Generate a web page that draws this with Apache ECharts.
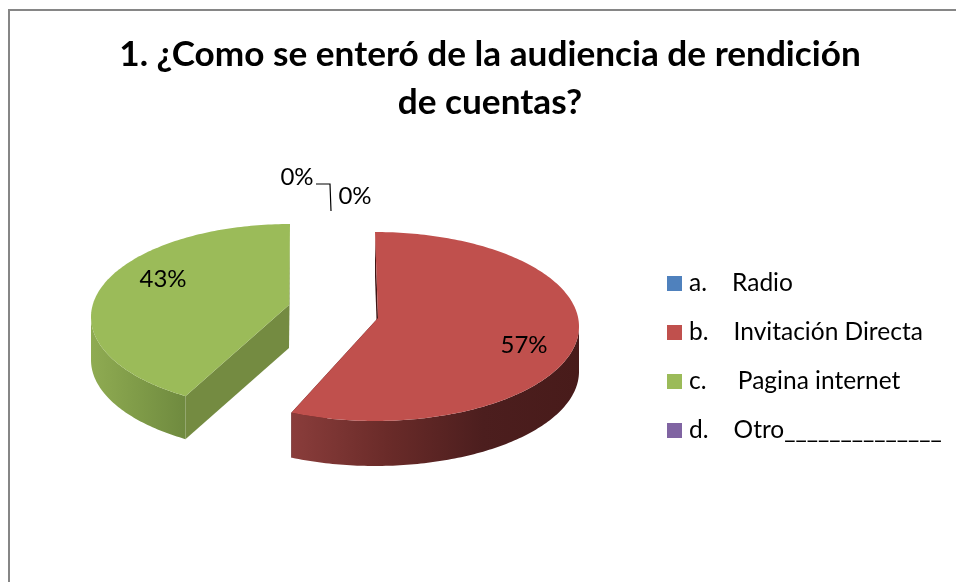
<!DOCTYPE html>
<html>
<head>
<meta charset="utf-8">
<style>
  html,body{margin:0;padding:0;background:#fff;}
  #main{width:956px;height:582px;}
</style>
<script src="https://cdn.jsdelivr.net/npm/echarts@6/dist/echarts.min.js"></script>
</head>
<body>
<div id="main"></div>
<script>
var title_name = '1. ¿Como se enteró de la audiencia de rendición\nde cuentas?';
var categories = ['a.    Radio', 'b.    Invitación Directa', 'c.     Pagina internet', 'd.    Otro______________'];
var percents = [0, 57, 43, 0];
var colors = ['#4f81bd', '#c0504d', '#9bbb59', '#8064a2'];

// one tilted, exploded slice per category: ellipse, apex and wall height
// lean / leanEnd nudge the cut edges, the perspective of the picture moves them a bit
var shapes = [
  null,
  {cx:375, cy:326.5, rx:204, ry:94.5, ax:378, ay:318, depth:45, lean:0, leanEnd:-1, label:[524,345],
    face:'#3f1615', wall:['#8a3d3b','#6a2b29','#4c1e1e','#481b1a']},
  {cx:290, cy:317, rx:199, ry:93, ax:289, ay:305, depth:43, lean:6.5, leanEnd:0, label:[163,279],
    face:'#748b41', wall:['#8fab52','#7f9b48','#6f8a3f']},
  null
];
var zero_labels = [[297,177], null, null, [355,196]];
var label_font = '24px Lato';

function rimPoint(s, deg, down){
  var r = deg*Math.PI/180;
  return [s.cx+s.rx*Math.sin(r), s.cy-s.ry*Math.cos(r)+(down||0)];
}

function renderSlice(params, api){
  var i = params.seriesIndex, kids = [];
  var s = shapes[i], val = api.value(0);
  var total = 0, before = 0;
  for (var k = 0; k < percents.length; k++) {
    total += percents[k];
    if (k < i) before += percents[k];
  }
  if (s && val > 0) {
    var a0 = before/total*360 + s.lean, a1 = (before+val)/total*360 + s.leanEnd;
    var top = [[s.ax,s.ay]], a;
    for (a = a0; a < a1; a += 1) top.push(rimPoint(s,a));
    top.push(rimPoint(s,a1));

    // cut faces first, the wall and the top surface cover what is hidden
    [a0,a1].forEach(function(e){
      var p = rimPoint(s,e);
      kids.push({type:'polygon', shape:{points:[p,[s.ax,s.ay],[s.ax,s.ay+s.depth],[p[0],p[1]+s.depth]]},
        style:{fill:s.face}});
    });

    var from = Math.max(a0,90), to = Math.min(a1,270);
    if (to > from) {
      var up = [], down = [];
      for (a = from; a < to; a += 1) {
        up.push(rimPoint(s,a));
        down.unshift(rimPoint(s,a,s.depth));
      }
      up.push(rimPoint(s,to));
      down.unshift(rimPoint(s,to,s.depth));
      kids.push({type:'polygon', shape:{points:up.concat(down)},
        style:{fill:{type:'linear',x:0,y:0,x2:1,y2:0,colorStops:s.wall.map(function(c,n){
          return {offset:n/(s.wall.length-1), color:c};
        })}}});
    }
    kids.push({type:'polygon', shape:{points:top}, style:{fill:colors[i]}});
    kids.push({type:'text', style:{x:s.label[0], y:s.label[1], text:val+'%', font:label_font,
      fill:'#000', align:'center', verticalAlign:'middle'}});
  } else if (zero_labels[i]) {
    kids.push({type:'text', style:{x:zero_labels[i][0], y:zero_labels[i][1], text:val+'%', font:label_font,
      fill:'#000', align:'center', verticalAlign:'middle'}});
  }
  // leader line of the two empty slices
  if (i === 3) {
    kids.push({type:'polyline', shape:{points:[[316,184],[330,184],[331,211]]},
      style:{fill:'none', stroke:'#000', lineWidth:1.2}});
  }
  return {type:'group', children:kids};
}

var myChart = echarts.init(document.getElementById('main'));
var series = [];
for (var i = 0; i < categories.length; i++) {
  series.push({
    name: categories[i],
    type: 'custom',
    coordinateSystem: 'none',
    silent: true,
    itemStyle: {color: colors[i]},
    renderItem: renderSlice,
    data: [[percents[i]]]
  });
}

var option = {
  backgroundColor: '#fff',
  animation: false,
  title: {
    text: title_name,
    left: 485,
    top: 26,
    textAlign: 'center',
    textStyle: {fontFamily:'Lato', fontWeight:'bold', fontSize:35.2, lineHeight:48, color:'#000'}
  },
  legend: {
    orient: 'vertical',
    left: 662,
    top: 266,
    icon: 'rect',
    itemWidth: 15,
    itemHeight: 15,
    itemGap: 24,
    selectedMode: false,
    data: categories,
    textStyle: {fontFamily:'Lato', fontSize:24.5, color:'#000', padding:[0,0,0,2]}
  },
  graphic: [
    {type:'line', silent:true, shape:{x1:9,y1:10,x2:956,y2:10}, style:{stroke:'#868686',lineWidth:2}},
    {type:'line', silent:true, shape:{x1:9,y1:9,x2:9,y2:582}, style:{stroke:'#868686',lineWidth:2}}
  ],
  series: series
};
myChart.setOption(option);
</script>
</body>
</html>
